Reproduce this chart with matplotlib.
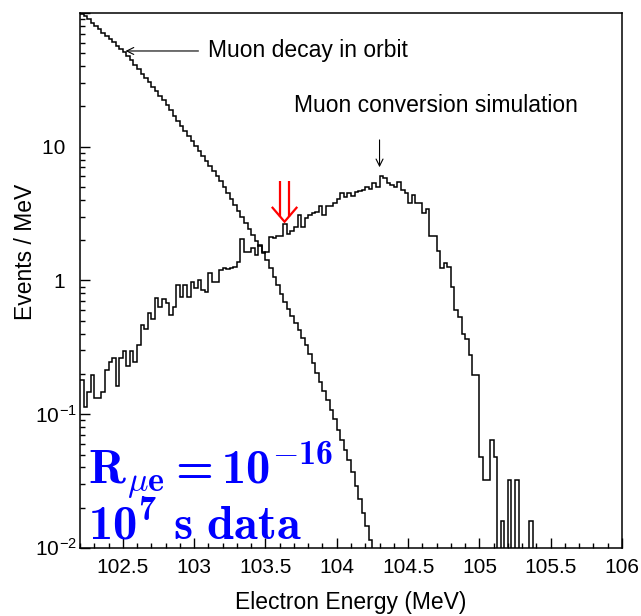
import numpy as np
import matplotlib
matplotlib.use("Agg")
import matplotlib.pyplot as plt
from matplotlib.ticker import MultipleLocator, LogLocator, FixedLocator, FuncFormatter, NullFormatter

plt.rcParams['font.family'] = ['Liberation Sans', 'DejaVu Sans']
plt.rcParams['mathtext.fontset'] = 'custom'
plt.rcParams['mathtext.rm'] = 'Liberation Sans'
plt.rcParams['mathtext.it'] = 'cmmi10'
plt.rcParams['mathtext.bf'] = 'cmb10'
plt.rcParams['mathtext.fallback'] = 'cm'

# Histogram binning (MeV)
e_min, e_max, bin_width = 102.2, 106.0, 0.025

# Muon decay-in-orbit spectrum, Events/MeV per bin
dio = [
    97.7, 94.6, 89.5, 84.7, 80.0, 75.7, 71.4, 67.6, 64.0, 60.4,
    57.1, 54.1, 51.4, 47.6, 44.2, 40.9, 38.0, 35.2, 32.7, 30.3,
    28.1, 26.0, 24.1, 22.2, 20.4, 18.7, 17.1, 15.7, 14.4, 13.2,
    12.1, 11.1, 10.2, 9.33, 8.55, 7.85, 7.19, 6.61, 6.05, 5.56,
    5.01, 4.51, 4.06, 3.66, 3.30, 2.98, 2.69, 2.44, 2.20, 1.99,
    1.80, 1.63, 1.42, 1.23, 1.06, 0.920, 0.796, 0.692, 0.612, 0.542,
    0.480, 0.424, 0.374, 0.330, 0.282, 0.240, 0.205, 0.175, 0.150, 0.128,
    0.108, 0.0914, 0.0767, 0.0646, 0.0543, 0.0458, 0.0372, 0.0293, 0.0231, 0.0184,
    0.0145, 0.0114,
]

# Simulated mu -> e conversion signal, Events/MeV per bin
conv = [
    0.180, 0.114, 0.147, 0.197, 0.132, 0.132, 0.147, 0.214, 0.247, 0.262,
    0.163, 0.262, 0.299, 0.230, 0.299, 0.247, 0.330, 0.465, 0.432, 0.575,
    0.513, 0.744, 0.637, 0.723, 0.682, 0.552, 0.637, 0.926, 0.757, 0.926,
    0.757, 0.980, 0.874, 1.01, 0.849, 0.825, 1.14, 0.980, 0.980, 1.20,
    1.23, 1.22, 1.23, 1.27, 1.38, 2.03, 1.64, 1.64, 1.74, 1.55,
    1.84, 1.60, 1.64, 2.10, 2.07, 2.15, 2.15, 2.65, 2.23, 2.36,
    2.50, 3.09, 2.53, 2.92, 3.09, 3.21, 3.27, 3.61, 3.09, 3.61,
    3.61, 3.82, 4.05, 4.54, 4.23, 4.49, 4.28, 4.61, 4.69, 4.75,
    5.03, 4.81, 5.33, 5.03, 6.04, 5.81, 5.39, 5.18, 4.98, 5.48,
    4.75, 4.54, 3.78, 4.36, 3.78, 3.78, 3.18, 3.41, 2.15, 2.15,
    1.67, 1.23, 1.36, 1.27, 0.890, 0.602, 0.531, 0.398, 0.363, 0.277,
    0.197, 0.197, 0.048, 0.032, 0.032, 0.064, 0.048, 0.0, 0.016, 0.0,
    0.032, 0.0, 0.032, 0.0, 0.0, 0.0, 0.016,
]

x_ticks = [102.5, 103.0, 103.5, 104.0, 104.5, 105.0, 105.5, 106.0]
y_ticks = [0.01, 0.1, 1.0, 10.0, 100.0]
y_tick_labels = [r'$10^{-2}$', r'$10^{-1}$', '1  ', '10  ', '']

n_bins = int(round((e_max - e_min) / bin_width))
edges = e_min + bin_width * np.arange(n_bins + 1)


def full(values):
    out = np.zeros(n_bins)
    out[:len(values)] = values
    return out


fig = plt.figure(figsize=(6.41, 6.16), dpi=100)
ax = fig.add_axes([0.1248, 0.1104, 0.8456, 0.8685])
ax.set_yscale('log', nonpositive='clip')

ax.stairs(full(dio), edges, baseline=None, color='black', lw=1.1)
ax.stairs(full(conv), edges, baseline=None, color='black', lw=1.1)

ax.set_xlim(e_min, e_max)
ax.set_ylim(0.01, 100)

ax.xaxis.set_major_locator(FixedLocator(x_ticks))
ax.xaxis.set_minor_locator(MultipleLocator(0.1))
ax.xaxis.set_major_formatter(FuncFormatter(lambda v, p: f'{v:g}'))
ax.yaxis.set_major_locator(FixedLocator(y_ticks))
ax.yaxis.set_major_formatter(FuncFormatter(lambda v, p: y_tick_labels[p] if p is not None and p < len(y_tick_labels) else ''))
ax.yaxis.set_minor_locator(LogLocator(base=10, subs=np.arange(2, 10)))
ax.yaxis.set_minor_formatter(NullFormatter())

ax.tick_params(which='both', direction='in', top=False, right=False, labelsize=15, width=1.0)
ax.tick_params(which='major', length=7.2)
ax.tick_params(axis='x', which='major', pad=7)
ax.tick_params(axis='y', which='major', pad=2)
ax.tick_params(which='minor', length=3.6)
for s in ax.spines.values():
    s.set_linewidth(1.1)

ax.set_xlabel('Electron Energy (MeV)', fontsize=16.5, labelpad=10)
ax.set_ylabel('Events / MeV', fontsize=16.5)
ax.yaxis.set_label_coords(-0.079, 0.553)

# annotations
ax.annotate('', xy=(102.5, 52), xytext=(103.05, 52),
            arrowprops=dict(arrowstyle='->,head_length=0.5,head_width=0.25', color='black', lw=0.8))
ax.text(103.1, 52, 'Muon decay in orbit', fontsize=16.5, va='center', ha='left')

ax.annotate('', xy=(104.30, 6.7), xytext=(104.30, 11.8),
            arrowprops=dict(arrowstyle='->,head_length=0.5,head_width=0.25', color='black', lw=0.8))
ax.text(103.70, 20.2, 'Muon conversion simulation', fontsize=16.5, va='center', ha='left')

# red double arrow marking the signal window edge
for xr in (103.603, 103.666):
    ax.plot([xr, xr], [5.5, 3.0], color='red', lw=1.6, solid_capstyle='butt')
ax.plot([103.55, 103.634, 103.718], [3.5, 2.75, 3.5], color='red', lw=1.6, solid_joinstyle='miter')

ax.text(0.015, 0.1215, r'$\mathbf{R}_{\mu\mathbf{e}}\mathbf{=10^{-16}}$', transform=ax.transAxes,
        color='#0000ff', fontsize=35, ha='left', va='baseline')
ax.text(0.015, 0.015, r'$\mathbf{10^{7}\ s\ data}$', transform=ax.transAxes,
        color='#0000ff', fontsize=35, ha='left', va='baseline')

fig.savefig('out.png', dpi=100)
